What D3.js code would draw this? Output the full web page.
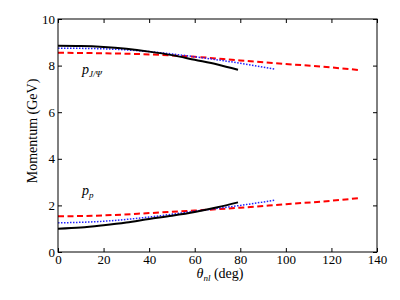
<!DOCTYPE html>
<html><head><meta charset="utf-8">
<script src="https://cdn.jsdelivr.net/npm/d3@7"></script>
<style>body{margin:0;background:#fff}svg text{font-family:"Liberation Serif","DejaVu Serif",serif;}</style>
</head><body><svg id="c" width="400" height="300"></svg>
<script>
const xTicks=[0,20,40,60,80,100,120,140];
const yTicks=[0,2,4,6,8,10];
const jpsiSolid=[[0,8.85],[10,8.84],[20,8.8],[30,8.72],[40,8.6],[50,8.45],[60,8.25],[70,8.05],[79,7.82]];
const jpsiDotted=[[0,8.75],[20,8.72],[40,8.6],[60,8.38],[80,8.1],[95,7.85]];
const jpsiDashed=[[0,8.55],[20,8.53],[40,8.48],[60,8.38],[80,8.22],[100,8.07],[120,7.92],[133,7.8]];
const pSolid=[[0,1.0],[10,1.05],[20,1.15],[30,1.27],[40,1.42],[50,1.56],[60,1.72],[70,1.92],[79,2.13]];
const pDotted=[[0,1.25],[20,1.32],[40,1.5],[60,1.75],[80,2.0],[95,2.22]];
const pDashed=[[0,1.53],[20,1.57],[40,1.67],[60,1.78],[80,1.9],[100,2.05],[120,2.2],[133,2.32]];

const svg=d3.select("#c");
const L=58,R=377,T=19,B=252;
const x=d3.scaleLinear().domain([0,140]).range([L,R]);
const y=d3.scaleLinear().domain([0,10]).range([B,T]);
const g=svg.append("g");
const ln=d3.line().x(d=>x(d[0])).y(d=>y(d[1])).curve(d3.curveMonotoneX);
const styles=[
 {d:jpsiDashed,c:"#ff0000",w:2,da:"6,3.5"},
 {d:pDashed,c:"#ff0000",w:2,da:"6,3.5"},
 {d:jpsiDotted,c:"#2020ff",w:1.5,da:"1.5,1.5"},
 {d:pDotted,c:"#2020ff",w:1.5,da:"1.5,1.5"},
 {d:jpsiSolid,c:"#000",w:2,da:null},
 {d:pSolid,c:"#000",w:2,da:null}];
styles.forEach(s=>{g.append("path").attr("d",ln(s.d)).attr("fill","none").attr("stroke",s.c).attr("stroke-width",s.w).attr("stroke-dasharray",s.da);});

svg.append("rect").attr("x",L).attr("y",T).attr("width",R-L).attr("height",B-T).attr("fill","none").attr("stroke","#000").attr("stroke-width",1);
const ax=d3.axisBottom(x).tickValues(xTicks).tickSize(-4).tickPadding(3).tickFormat(d3.format("d"));
const axT=d3.axisTop(x).tickValues(xTicks).tickSize(-4).tickFormat("");
const ay=d3.axisLeft(y).tickValues(yTicks).tickSize(-4).tickPadding(3).tickFormat(d3.format("d"));
const ayR=d3.axisRight(y).tickValues(yTicks).tickSize(-4).tickFormat("");
[[ax,`translate(0,${B})`],[axT,`translate(0,${T})`],[ay,`translate(${L},0)`],[ayR,`translate(${R},0)`]].forEach(([a,t])=>{
 const gg=svg.append("g").attr("transform",t).call(a);
 gg.select(".domain").remove();
 gg.selectAll("text").attr("font-size",13).attr("fill","#000");
 gg.selectAll("line").attr("stroke","#000");
});
svg.append("text").attr("transform",`translate(37,131) rotate(-90)`).attr("text-anchor","middle").attr("font-size",14).text("Momentum (GeV)");
const xl=svg.append("text").attr("x",220).attr("y",278).attr("text-anchor","middle").attr("font-size",14);
xl.append("tspan").attr("font-style","italic").text("θ");
xl.append("tspan").attr("font-style","italic").attr("font-size",9).attr("dy",3).text("nl");
xl.append("tspan").attr("dy",-3).text(" (deg)");
const l1=svg.append("text").attr("x",82).attr("y",74).attr("font-size",14);
l1.append("tspan").attr("font-style","italic").text("p");
l1.append("tspan").attr("font-style","italic").attr("font-size",9).attr("dy",3).text("J/Ψ");
const l2=svg.append("text").attr("x",82).attr("y",195).attr("font-size",14);
l2.append("tspan").attr("font-style","italic").text("p");
l2.append("tspan").attr("font-style","italic").attr("font-size",9).attr("dy",3).text("p");
</script></body></html>
